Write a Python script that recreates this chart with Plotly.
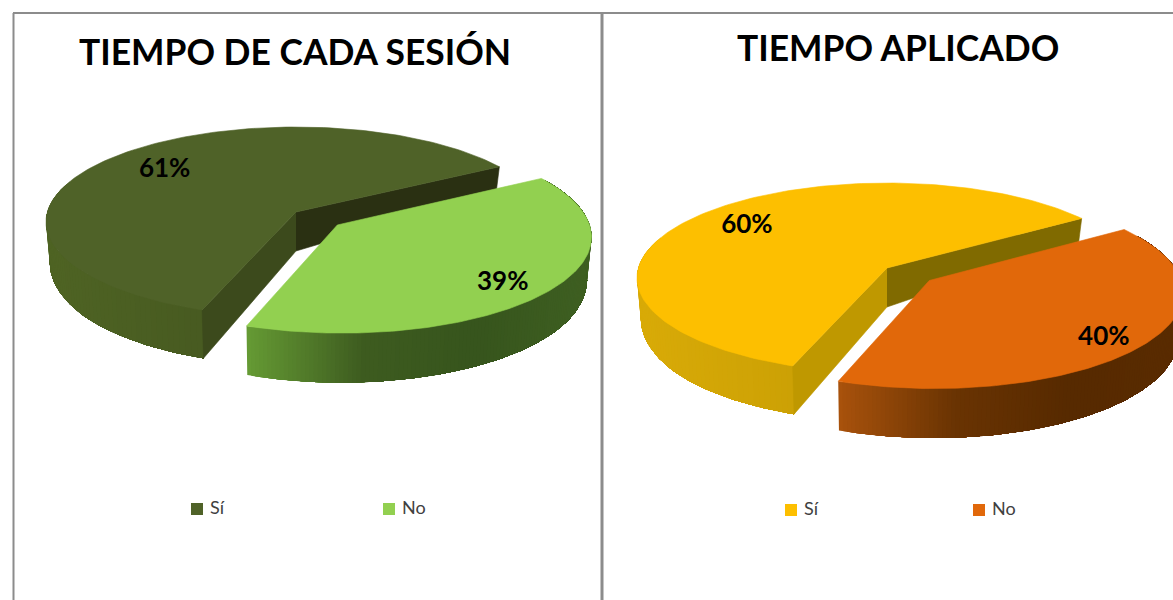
import numpy as np
import plotly.graph_objects as go

categories = ["Sí", "No"]
titles = ["TIEMPO DE CADA SESIÓN", "TIEMPO APLICADO"]
values_sesion = [61, 39]
values_aplicado = [60, 40]
labels_sesion = ["61%", "39%"]
labels_aplicado = ["60%", "40%"]

# Perspective model of the tilted pie (layout only)
A, B, P = 248.6, 93.9, 0.105
PIES = [
    dict(values=values_sesion, labels=labels_sesion, apex=(296, 212), start=59.5, explode=0.213,
         top=["#4F6228", "#92D050"],
         wall=[["#4F6424", "#3A491B"], ["#659A34", "#3E5C20", "#37551D", "#3F6022"]],
         cut=[["#2A3012", "#3C4A1C"], None],
         label_r=[0.72, 0.795],
         title=(295, 51), legend=[(197, 509), (389, 509)]),
    dict(values=values_aplicado, labels=labels_aplicado, apex=(887, 268), start=56, explode=0.213,
         top=["#FDBF00", "#E1680A"],
         wall=[["#D9AB08", "#B58F00"], ["#A8520C", "#6A3403", "#572A00", "#5A2C00"]],
         cut=[["#806A00", "#BF9800"], None],
         label_r=[0.75, 0.82],
         title=(898, 47), legend=[(791, 510), (979, 510)]),
]
LABEL_DY = [0, 7]


def project(apex, phi, r, off):
    X = r * np.sin(phi) + off[0]
    Z = r * np.cos(phi) + off[1]
    w = 1 + P * Z
    return apex[0] + A * X / w, apex[1] - B * Z / w, Z


def depth(Z):
    return np.interp(Z, [-1.2, -0.6, 0, 0.6], [50, 46, 39, 22])


def hex2rgb(h):
    return np.array([int(h[i:i + 2], 16) for i in (1, 3, 5)], float)


def ramp(stops, t):
    pos = np.linspace(0, 1, len(stops))
    rgb = [np.interp(t, pos, [hex2rgb(s)[k] for s in stops]) for k in range(3)]
    return "rgb(%d,%d,%d)" % tuple(rgb)


def poly(fig, xs, ys, color, width=0.6):
    fig.add_trace(go.Scatter(x=list(xs), y=list(ys), mode="lines", fill="toself", fillcolor=color,
                             line=dict(color=color, width=width), hoverinfo="skip", showlegend=False))


def lower(apex, x, y, Z):
    return apex[0] + (x - apex[0]) * 0.985, y + depth(Z)


fig = go.Figure()
for pie in PIES:
    apex = pie["apex"]
    a0 = pie["start"]
    total = sum(pie["values"])
    spans = [v / total * 360 for v in pie["values"]]
    # slice order: "No" runs clockwise from the start angle, "Sí" takes the rest
    ranges = [(a0 + spans[1], a0 + 360), (a0, a0 + spans[1])]
    for i, (s, e) in enumerate(ranges):
        mid = np.radians((s + e) / 2)
        off = (pie["explode"] * np.sin(mid), pie["explode"] * np.cos(mid)) if i == 1 else (0, 0)
        phis = np.radians(np.linspace(s, e, 160))
        xs, ys, zs = project(apex, phis, 1, off)
        cx, cy, cz = project(apex, 0.0, 0, off)
        bx, by = lower(apex, xs, ys, zs)
        cbx, cby = lower(apex, cx, cy, cz)
        if pie["cut"][i]:
            poly(fig, [cx, xs[-1], bx[-1], cbx], [cy, ys[-1], by[-1], cby], pie["cut"][i][0])
        # outer wall, shaded along its length; each band overlaps the rest so no seams show
        xmin, xmax = xs.min(), xs.max()
        vis = np.where(zs <= 0.35)[0]
        seq = vis[::-1] if xs[vis[0]] > xs[vis[-1]] else vis
        for n in range(len(seq) - 1):
            band = seq[n:]
            t = (xs[seq[n]] - xmin) / (xmax - xmin)
            poly(fig, np.r_[xs[band], bx[band][::-1]], np.r_[ys[band], by[band][::-1]],
                 ramp(pie["wall"][i], t), width=0)
        if pie["cut"][i]:
            poly(fig, [cx, xs[0], bx[0], cbx], [cy, ys[0], by[0], cby], pie["cut"][i][1])
        poly(fig, np.r_[cx, xs, cx], np.r_[cy, ys, cy], pie["top"][i])
        # data label
        lx, ly, _ = project(apex, mid, pie["label_r"][i], off)
        fig.add_trace(go.Scatter(x=[lx], y=[ly + LABEL_DY[i]], mode="text", text=[pie["labels"][i]],
                                 textposition="middle center",
                                 textfont=dict(family="Lato", size=26, color="#000000", weight="bold"),
                                 hoverinfo="skip", showlegend=False))
    # legend
    for j, name in enumerate(categories):
        lx, ly = pie["legend"][j]
        fig.add_trace(go.Scatter(x=[lx], y=[ly], mode="markers+text", text=[" " + name], textposition="middle right",
                                 marker=dict(symbol="square", size=12, color=pie["top"][j]),
                                 textfont=dict(family="Lato", size=18, color="#404040"),
                                 hoverinfo="skip", showlegend=False))

annotations = [dict(x=p["title"][0], y=p["title"][1], xref="x", yref="y", text=t, showarrow=False,
                    font=dict(family="Lato", size=35.4, color="#000000", weight="bold"))
               for p, t in zip(PIES, titles)]

frame = "#8C8C8C"
shapes = [
    dict(type="line", xref="paper", yref="paper", x0=13 / 1173, x1=1, y0=1 - 13 / 600, y1=1 - 13 / 600,
         line=dict(color=frame, width=2)),
    dict(type="line", xref="paper", yref="paper", x0=13.5 / 1173, x1=13.5 / 1173, y0=0, y1=1 - 13 / 600,
         line=dict(color=frame, width=2)),
    dict(type="line", xref="paper", yref="paper", x0=602 / 1173, x1=602 / 1173, y0=0, y1=1 - 13 / 600,
         line=dict(color=frame, width=3)),
]

fig.update_layout(
    width=1173, height=600, margin=dict(l=0, r=0, t=0, b=0),
    paper_bgcolor="white", plot_bgcolor="white",
    xaxis=dict(range=[0, 1173], visible=False, fixedrange=True),
    yaxis=dict(range=[600, 0], visible=False, fixedrange=True),
    annotations=annotations, shapes=shapes, showlegend=False,
)
fig.write_html("out.html", config=dict(displayModeBar=False),
               post_script="document.body.style.margin='0';document.body.style.overflow='hidden';")
